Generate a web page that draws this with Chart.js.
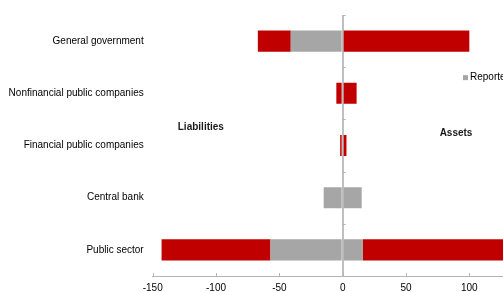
<!DOCTYPE html>
<html>
<head>
<meta charset="utf-8">
<script src="https://cdn.jsdelivr.net/npm/chart.js@4.4.0/dist/chart.umd.min.js"></script>
<style>
  html, body { margin: 0; padding: 0; overflow: hidden; background: #fff; }
  #wrap { width: 547px; height: 292px; }
</style>
</head>
<body>
<div id="wrap"><canvas id="chart"></canvas></div>
<script>
// Sectors and balance sheet values (liabilities negative, assets positive)
const sectors = ['General government', 'Nonfinancial public companies', 'Financial public companies', 'Central bank', 'Public sector'];
const reportedLiabilities = [-41, 0, 0, -15, -57];
const unreportedLiabilities = [-26, -5, -2, 0, -86];
const reportedAssets = [0, 0, 0, 15, 16];
const unreportedAssets = [100, 11, 3, 0, 114];
const xTicks = [-150, -100, -50, 0, 50, 100, 150];

const grey = '#a6a6a6';
const red = '#c00000';
const axisGrey = '#b4b4b4';
const zeroGrey = '#bfbfbf';

// text placed over the plot (in axis units)
const captions = [
    { text: 'Liabilities', x: -112, y: 1.65 },
    { text: 'Assets', x: 89.5, y: 1.76 }
];
const legendAt = { x: 95, y: 0.7 };

Chart.defaults.font.family = '"Liberation Sans", Arial, sans-serif';
Chart.defaults.font.size = 10;
Chart.defaults.color = '#000';

const extras = {
    id: 'extras',
    afterDraw(chart) {
        const { ctx, chartArea, scales: { x, y } } = chart;
        ctx.save();

        // short tick marks pointing up from the value axis
        ctx.strokeStyle = axisGrey;
        ctx.lineWidth = 1;
        ctx.beginPath();
        x.ticks.forEach(t => {
            const px = Math.round(x.getPixelForValue(t.value)) + 0.5;
            ctx.moveTo(px, chartArea.bottom);
            ctx.lineTo(px, chartArea.bottom - 3);
        });
        // marks between categories along the zero line
        const x0 = x.getPixelForValue(0);
        sectors.forEach((s, i) => {
            const py = Math.round(y.getPixelForValue(i - 0.5)) + 0.5;
            ctx.moveTo(x0, py);
            ctx.lineTo(x0 + 3, py);
        });
        ctx.stroke();

        // Liabilities / Assets captions
        ctx.font = 'bold 10px "Liberation Sans", Arial, sans-serif';
        ctx.fillStyle = '#1a1a1a';
        ctx.textAlign = 'center';
        ctx.textBaseline = 'middle';
        captions.forEach(c => ctx.fillText(c.text, x.getPixelForValue(c.x), y.getPixelForValue(c.y)));

        // legend, drawn over the plot like the original
        const seen = [];
        chart.data.datasets.forEach(ds => {
            if (!seen.find(s => s.label === ds.label)) seen.push(ds);
        });
        let lx = x.getPixelForValue(legendAt.x);
        const ly = y.getPixelForValue(legendAt.y);
        ctx.font = '10px "Liberation Sans", Arial, sans-serif';
        ctx.textAlign = 'left';
        seen.forEach(ds => {
            ctx.fillStyle = ds.backgroundColor;
            ctx.fillRect(lx, ly - 2.5, 5, 5);
            ctx.fillStyle = '#000';
            ctx.fillText(ds.label, lx + 7, ly);
            lx += 14 + ctx.measureText(ds.label).width;
        });
        ctx.restore();
    }
};

new Chart(document.getElementById('chart'), {
    type: 'bar',
    data: {
        labels: sectors,
        datasets: [
            { label: 'Reported', data: reportedLiabilities, backgroundColor: grey },
            { label: 'Unreported', data: unreportedLiabilities, backgroundColor: red },
            { label: 'Reported', data: reportedAssets, backgroundColor: grey },
            { label: 'Unreported', data: unreportedAssets, backgroundColor: red }
        ]
    },
    options: {
        indexAxis: 'y',
        responsive: true,
        maintainAspectRatio: false,
        animation: false,
        layout: { padding: { top: 13, left: 0, right: 0, bottom: 0 } },
        datasets: {
            bar: { categoryPercentage: 1, barPercentage: 0.405, borderWidth: 0 }
        },
        scales: {
            x: {
                stacked: true,
                min: xTicks[0],
                max: xTicks[xTicks.length - 1],
                z: 1,
                ticks: { stepSize: 50, padding: 6 },
                grid: {
                    drawTicks: false,
                    color: c => (c.tick && c.tick.value === 0 ? zeroGrey : 'transparent'),
                    lineWidth: c => (c.tick && c.tick.value === 0 ? 2 : 0)
                },
                border: { color: axisGrey, width: 1 },
                afterFit: s => { s.height = 16; }
            },
            y: {
                stacked: true,
                grid: { display: false, drawTicks: false },
                border: { display: false },
                ticks: { padding: 9, autoSkip: false },
                afterFit: s => { s.width = 152.7; }
            }
        },
        plugins: {
            legend: { display: false },
            tooltip: { enabled: false }
        }
    },
    plugins: [extras]
});
</script>
</body>
</html>
